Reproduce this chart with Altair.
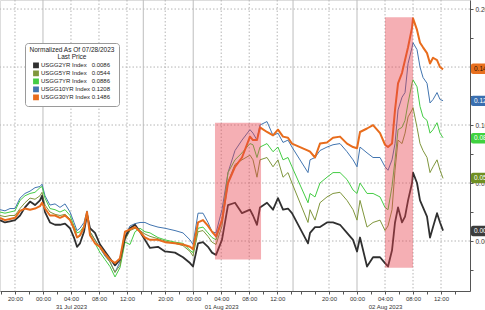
import altair as alt
import pandas as pd

# compressed session time (hours from first print, gaps between sessions removed)
T = [0.0, 0.71, 1.43, 2.14, 2.86, 3.57, 4.29, 5.0, 5.71, 6.0,
     6.43, 7.14, 7.86, 8.57, 9.29, 10.0, 10.57, 11.0, 11.43, 12.0,
     12.43, 12.86, 13.57, 14.29, 15.0, 15.71, 16.43, 17.14, 17.86, 18.57,
     19.29, 20.0, 20.71, 21.43, 22.57, 23.57, 25.0, 26.14, 27.14, 27.57,
     28.29, 29.0, 29.71, 30.29, 30.86, 31.71, 32.57, 33.57, 34.57, 35.71,
     36.14, 36.71, 37.14, 38.14, 39.0, 39.71, 40.43, 41.14, 41.71, 44.0,
     44.29, 45.0, 45.71, 46.71, 47.57, 48.57, 49.57, 50.43, 51.0, 51.43,
     52.43, 53.29, 54.29, 55.0, 55.43, 56.0, 56.43, 56.86, 57.43, 57.86,
     58.29, 58.86, 59.0, 59.57, 60.0, 60.43, 61.0, 61.43, 61.86, 62.43,
     62.86, 63.29]

Y2 = [0.018, 0.016, 0.017, 0.018, 0.022, 0.029, 0.034, 0.031, 0.035, 0.039,
      0.025, 0.016, 0.014, 0.014, 0.015, 0.011, 0.003, -0.005, -0.002, 0.008,
      0.023, 0.011, 0.007, -0.003, -0.009, -0.015, -0.021, -0.016, 0.003, 0.011,
      0.014, 0.008, 0.001, -0.006, -0.005, -0.009, -0.010, -0.014, -0.019, -0.022,
      -0.002, -0.001, -0.005, -0.010, -0.012, 0.001, 0.031, 0.033, 0.024, 0.027,
      0.022, 0.014, 0.029, 0.033, 0.027, 0.037, 0.027, 0.028, 0.024, -0.002,
      0.007, 0.012, 0.012, 0.016, 0.016, 0.014, 0.007, 0.001, -0.009, 0.003,
      -0.022, -0.014, -0.014, -0.019, -0.022, -0.008, 0.016, 0.029, 0.016, 0.021,
      0.035, 0.050, 0.059, 0.050, 0.035, 0.029, 0.021, 0.003, 0.012, 0.024,
      0.016, 0.009]

Y5 = [0.022, 0.021, 0.022, 0.022, 0.028, 0.033, 0.037, 0.036, 0.039, 0.042,
      0.031, 0.025, 0.023, 0.022, 0.023, 0.019, 0.009, 0.003, 0.004, 0.011,
      0.024, 0.008, 0.001, -0.006, -0.012, -0.018, -0.027, -0.021, 0.001, 0.009,
      0.011, 0.009, 0.006, 0.004, 0.002, 0.000, -0.002, -0.004, -0.009, -0.013,
      0.008, 0.009, 0.004, -0.001, -0.003, 0.013, 0.051, 0.066, 0.070, 0.074,
      0.070, 0.055, 0.070, 0.072, 0.064, 0.070, 0.055, 0.059, 0.050, 0.016,
      0.027, 0.018, 0.033, 0.038, 0.041, 0.042, 0.035, 0.027, 0.018, 0.035,
      0.012, 0.016, 0.018, 0.009, 0.013, 0.027, 0.061, 0.087, 0.084, 0.093,
      0.107, 0.113, 0.115, 0.098, 0.084, 0.078, 0.072, 0.059, 0.064, 0.070,
      0.061, 0.054]

Y7 = [0.025, 0.024, 0.025, 0.026, 0.035, 0.039, 0.041, 0.042, 0.046, 0.047,
      0.037, 0.028, 0.027, 0.025, 0.027, 0.022, 0.013, 0.007, 0.008, 0.013,
      0.025, 0.006, -0.002, -0.010, -0.016, -0.022, -0.031, -0.023, -0.001, -0.003,
      0.008, 0.011, 0.008, 0.007, 0.003, 0.001, -0.001, -0.002, -0.008, -0.010,
      0.011, 0.012, 0.007, 0.003, 0.001, 0.018, 0.059, 0.070, 0.076, 0.084,
      0.083, 0.072, 0.081, 0.084, 0.077, 0.081, 0.070, 0.072, 0.064, 0.033,
      0.041, 0.038, 0.050, 0.055, 0.059, 0.059, 0.053, 0.044, 0.041, 0.050,
      0.041, 0.041, 0.038, 0.029, 0.027, 0.047, 0.070, 0.096, 0.098, 0.104,
      0.119, 0.136, 0.139, 0.133, 0.116, 0.107, 0.104, 0.093, 0.096, 0.102,
      0.093, 0.089]

Y10 = [0.027, 0.026, 0.028, 0.028, 0.037, 0.041, 0.043, 0.046, 0.047, 0.049,
       0.039, 0.031, 0.032, 0.029, 0.032, 0.025, 0.016, 0.009, 0.011, 0.016,
       0.026, 0.008, 0.001, -0.006, -0.013, -0.018, -0.027, -0.018, 0.004, 0.013,
       0.015, 0.016, 0.016, 0.014, 0.012, 0.011, 0.009, 0.007, 0.001, -0.003,
       0.024, 0.024, 0.016, 0.008, 0.007, 0.027, 0.059, 0.078, 0.087, 0.096,
       0.093, 0.087, 0.100, 0.103, 0.091, 0.093, 0.085, 0.087, 0.081, 0.059,
       0.070, 0.072, 0.078, 0.081, 0.083, 0.084, 0.077, 0.070, 0.064, 0.081,
       0.076, 0.072, 0.072, 0.064, 0.061, 0.070, 0.084, 0.113, 0.124, 0.128,
       0.153, 0.167, 0.171, 0.165, 0.150, 0.141, 0.136, 0.119, 0.122, 0.128,
       0.122, 0.121]

Y30 = [0.020, 0.018, 0.019, 0.020, 0.026, 0.028, 0.027, 0.028, 0.030, 0.033,
       0.028, 0.022, 0.022, 0.020, 0.022, 0.018, 0.011, 0.003, 0.005, 0.012,
       0.025, 0.005, -0.002, -0.005, -0.011, -0.016, -0.019, -0.015, 0.008, 0.010,
       0.012, 0.008, 0.003, 0.001, 0.001, -0.001, -0.002, -0.003, -0.005, -0.007,
       0.016, 0.018, 0.013, 0.008, 0.004, 0.018, 0.050, 0.064, 0.072, 0.090,
       0.087, 0.087, 0.098, 0.094, 0.091, 0.096, 0.090, 0.089, 0.084, 0.078,
       0.077, 0.072, 0.084, 0.085, 0.089, 0.090, 0.084, 0.081, 0.080, 0.094,
       0.097, 0.100, 0.093, 0.083, 0.081, 0.084, 0.113, 0.136, 0.145, 0.156,
       0.167, 0.184, 0.192, 0.182, 0.171, 0.167, 0.162, 0.153, 0.158, 0.156,
       0.150, 0.148]

names = ["USGG2YR Index", "USGG5YR Index", "USGG7YR Index", "USGG10YR Index", "USGG30YR Index"]
last_txt = ["0.0086", "0.0544", "0.0886", "0.1208", "0.1486"]
last_vals = [0.0086, 0.0544, 0.0886, 0.1208, 0.1486]
box_txt = ["0.00", "0.05", "0.08", "0.12", "0.14"]
line_colors = ["#303030", "#7f963c", "#44cc44", "#4275b0", "#e86c1c"]
box_colors = ["#3c3c3c", "#6f8f22", "#3fd23f", "#3a6fb0", "#e8701e"]
line_widths = [1.8, 1.0, 1.0, 1.0, 2.0]
series_values = [Y2, Y5, Y7, Y10, Y30]

# shaded windows
shade_t0 = [30.71, 55.0]
shade_t1 = [37.29, 59.0]
shade_top = [0.102, 0.193]
shade_bot = [-0.016, -0.023]

# axis ticks
lab_pos = [2.14, 6.14, 10.14, 14.14, 18.14,
           23.6, 27.6, 31.6, 35.6, 39.6,
           47.0, 51.0, 55.0, 59.0, 63.0]
lab_txt = ["20:00", "00:00", ["04:00", "31 Jul 2023"], "08:00", "12:00",
           "20:00", "00:00", ["04:00", "01 Aug 2023"], "08:00", "12:00",
           "20:00", "00:00", ["04:00", "02 Aug 2023"], "08:00", "12:00"]
minor_pos = [0.14, 4.14, 8.14, 12.14, 16.14, 20.14,
             21.6, 25.6, 29.6, 33.6, 37.6, 41.6,
             43.0, 45.0, 49.0, 53.0, 57.0, 61.0, 65.0]
dotted_t = [2.14, 10.14, 14.14, 18.14, 23.6, 31.6, 35.6, 39.6, 47.0, 55.0, 59.0, 63.0]
solid_t = [6.14, 20.47, 27.6, 41.86, 51.0]
hgrid_v = [0.0, 0.05, 0.10, 0.15, 0.20]
y_ticks = [-0.025, 0.0, 0.025, 0.05, 0.075, 0.10, 0.125, 0.15, 0.175, 0.20]

FONT = "Liberation Sans"
W, H = 470, 291

draw_order = [3, 2, 1, 0, 4]
rows = []
for i in draw_order:
    for t, v in zip(T, series_values[i]):
        rows.append({"t": t, "v": v, "series": names[i], "sw": line_widths[i]})
df = pd.DataFrame(rows)

xs = alt.Scale(domain=[0, 67.14], nice=False, zero=False)
ys = alt.Scale(domain=[-0.0431, 0.2078], nice=False, zero=False)

parts = []
for p, lab in zip(lab_pos, lab_txt):
    if isinstance(lab, list):
        s = "[" + ",".join("'" + x + "'" for x in lab) + "]"
    else:
        s = "'" + lab + "'"
    parts.append(f"abs(datum.value - {p}) < 0.01 ? {s} : ")
x_expr = "".join(parts) + "''"

xaxis = alt.Axis(values=lab_pos + minor_pos, labelExpr=x_expr, title=None, grid=False,
                 domainColor="#555555", tickColor="#555555", tickSize=3,
                 labelFont=FONT, labelFontSize=6, labelColor="#333333", labelPadding=1,
                 labelLineHeight=8.5, labelOverlap=False, labelFlush=False)
yaxis = alt.Axis(orient="right", values=y_ticks, title=None, grid=False,
                 labelExpr="abs(datum.value*20 - round(datum.value*20)) < 0.01 ? format(datum.value, '.2f') : ''",
                 domainColor="#555555", tickColor="#555555", tickSize=3,
                 labelFont=FONT, labelFontSize=6.5, labelColor="#333333", labelPadding=2,
                 labelOverlap=False, labelFlush=False)

leg_parts = []
for n, lt in zip(names, last_txt):
    pad = "\u2007" if ("10YR" not in n and "30YR" not in n) else ""
    leg_parts.append(f"datum.label == '{n}' ? '{n}{pad} {lt}' : ")
leg_expr = "".join(leg_parts) + "datum.label"

legend = alt.Legend(orient="none", legendX=25, legendY=43,
                    title=["Normalized As Of 07/28/2023", "Last Price"],
                    titleFont=FONT, titleFontSize=6.5, titleFontWeight="normal", titleColor="#222222",
                    titleAlign="center", titleAnchor="middle", titleLineHeight=7, titlePadding=1,
                    labelFont=FONT, labelFontSize=6, labelColor="#222222", labelExpr=leg_expr,
                    symbolType="square", symbolSize=8, symbolStrokeWidth=3, rowPadding=0,
                    clipHeight=7.6,
                    labelOffset=2, padding=4, fillColor="white", strokeColor="#9a9a9a",
                    cornerRadius=3)

hgrid = alt.Chart(pd.DataFrame({"v": hgrid_v})).mark_rule(
    color="#b5b5b5", strokeDash=[1.5, 2], strokeWidth=1).encode(
    y=alt.Y("v:Q", scale=ys, axis=yaxis))
vdot = alt.Chart(pd.DataFrame({"t": dotted_t})).mark_rule(
    color="#b5b5b5", strokeDash=[1.5, 2], strokeWidth=1).encode(
    x=alt.X("t:Q", scale=xs, axis=xaxis))
vsolid = alt.Chart(pd.DataFrame({"t": solid_t})).mark_rule(
    color="#bdbdbd", strokeWidth=1).encode(
    x=alt.X("t:Q", scale=xs, axis=xaxis))

lines = alt.Chart(df).mark_line(strokeJoin="round").encode(
    x=alt.X("t:Q", scale=xs, axis=xaxis),
    y=alt.Y("v:Q", scale=ys, axis=yaxis),
    color=alt.Color("series:N", scale=alt.Scale(domain=names, range=line_colors), legend=legend),
    strokeWidth=alt.StrokeWidth("sw:Q", scale=None),
)

shade = alt.Chart(pd.DataFrame({"t0": shade_t0, "t1": shade_t1, "top": shade_top, "bot": shade_bot})).mark_rect(
    color="#e8404c", opacity=0.42).encode(
    x=alt.X("t0:Q", scale=xs, axis=xaxis), x2="t1:Q",
    y=alt.Y("top:Q", scale=ys, axis=yaxis), y2="bot:Q")

boxes_df = pd.DataFrame({"series": names, "v": last_vals, "lab": box_txt, "bc": box_colors})
boxes = alt.Chart(boxes_df).transform_calculate(
    top="datum.v + 0.0045", bot="datum.v - 0.0045").mark_rect(cornerRadius=2).encode(
    x=alt.value(W + 1), x2=alt.value(W + 40),
    y=alt.Y("top:Q", scale=ys, axis=yaxis), y2="bot:Q",
    fill=alt.Fill("bc:N", scale=None))
box_text = alt.Chart(boxes_df).mark_text(align="left", baseline="middle", font=FONT, fontSize=6.5).encode(
    x=alt.value(W + 4),
    y=alt.Y("v:Q", scale=ys, axis=yaxis),
    text="lab:N",
    color=alt.condition(alt.datum.series == "USGG30YR Index", alt.value("#2a1200"), alt.value("white")))

chart = alt.layer(hgrid, vdot, vsolid, lines, shade, boxes, box_text).properties(
    width=W, height=H,
    autosize=alt.AutoSizeParams(type="none"),
    padding={"left": 0, "top": 0, "right": 15, "bottom": 19},
    background="white",
).configure_view(stroke=None).configure(font=FONT)

chart.save("out.html", embed_options={"renderer": "svg", "actions": False})
